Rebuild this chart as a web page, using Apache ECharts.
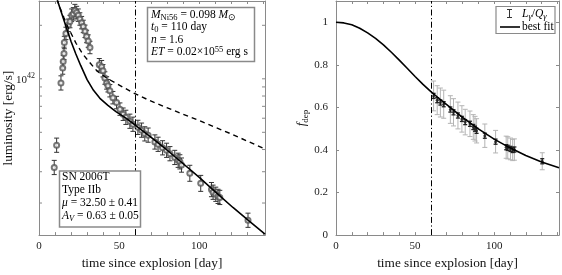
<!DOCTYPE html>
<html><head><meta charset="utf-8">
<script src="https://cdn.jsdelivr.net/npm/echarts@6/dist/echarts.min.js"></script>
<style>html,body{margin:0;padding:0;background:#fff}#c{width:562px;height:275px}</style>
</head><body><div id="c"></div>
<script>
// ---------- DATA ----------
const lumDays = [9.5, 11.0, 13.7, 14.8, 15.1, 15.6, 15.8, 16.8, 18.3, 19.3, 20.4, 21.4, 22.4, 23.5, 24.5, 25.5, 26.6, 27.6, 28.7, 29.7, 30.7, 31.8, 37.6, 39.1, 39.9, 41.1, 42.2, 43.0, 44.2, 46.1, 48.4, 50.5, 52.5, 54.2, 56.7, 58.6, 61.7, 64.0, 66.0, 68.1, 72.3, 74.3, 77.1, 79.6, 81.7, 84.7, 86.8, 87.9, 88.9, 94.1, 100.9, 107.6, 108.6, 110.3, 111.7, 112.8, 130.4];
const lum = [3.17e41, 4.23e41, 9.48e41, 1.15e42, 1.25e42, 1.39e42, 1.60e42, 1.80e42, 2.00e42, 2.10e42, 2.28e42, 2.32e42, 2.42e42, 2.36e42, 2.28e42, 2.17e42, 2.07e42, 1.97e42, 1.85e42, 1.73e42, 1.63e42, 1.50e42, 1.20e42, 1.17e42, 1.11e42, 1.01e42, 9.48e41, 9.14e41, 8.57e41, 7.83e41, 7.35e41, 6.75e41, 6.32e41, 6.07e41, 5.77e41, 5.55e41, 5.33e41, 5.14e41, 4.90e41, 4.82e41, 4.41e41, 4.28e41, 4.09e41, 3.96e41, 3.79e41, 3.61e41, 3.48e41, 3.41e41, 3.27e41, 2.94e41, 2.58e41, 2.38e41, 2.30e41, 2.24e41, 2.18e41, 2.15e41, 1.60e41];
const lumErrDex = [0.04, 0.04, 0.04, 0.035, 0.035, 0.035, 0.035, 0.035, 0.035, 0.035, 0.035, 0.035, 0.035, 0.035, 0.035, 0.035, 0.035, 0.035, 0.035, 0.035, 0.035, 0.035, 0.035, 0.035, 0.035, 0.035, 0.035, 0.035, 0.035, 0.035, 0.035, 0.035, 0.035, 0.04, 0.04, 0.04, 0.04, 0.04, 0.04, 0.04, 0.04, 0.04, 0.04, 0.04, 0.04, 0.04, 0.04, 0.04, 0.04, 0.045, 0.045, 0.04, 0.04, 0.04, 0.04, 0.04, 0.04];

const fitDays = [11.5, 13, 15, 17, 20, 23, 26, 30, 34, 38, 43, 48, 54, 60, 70, 80, 90, 100, 110, 121, 131, 141];
const fitLum = [2.754e42, 2.512e42, 2.213e42, 1.950e42, 1.622e42, 1.380e42, 1.189e42, 9.886e41, 8.610e41, 7.762e41, 7.079e41, 6.531e41, 6.026e41, 5.495e41, 4.677e41, 3.963e41, 3.327e41, 2.786e41, 2.312e41, 1.888e41, 1.585e41, 1.337e41];

const ni56Days = [11.2, 13.1, 15.5, 18.1, 23.1, 27.4, 31.8, 36.1, 42.4, 48.6, 58.6, 69.2, 79.7, 87.8, 100.3, 120.9, 140.8];
const ni56Lum = [2.812e42, 2.512e42, 2.213e42, 1.950e42, 1.585e42, 1.374e42, 1.230e42, 1.109e42, 1.007e42, 9.376e41, 8.356e41, 7.534e41, 6.887e41, 6.427e41, 5.808e41, 4.853e41, 4.036e41];

const fdepDays = [61.7, 64.0, 66.0, 68.1, 72.3, 74.3, 77.1, 79.6, 81.7, 84.7, 86.8, 87.9, 88.9, 94.1, 100.9, 107.6, 108.6, 110.3, 111.7, 112.8, 130.4];
const fdepVal = [0.654, 0.634, 0.623, 0.615, 0.590, 0.577, 0.562, 0.546, 0.531, 0.523, 0.508, 0.500, 0.490, 0.467, 0.439, 0.413, 0.410, 0.405, 0.400, 0.402, 0.347];
const fdepErr = [0.070, 0.068, 0.068, 0.066, 0.065, 0.064, 0.063, 0.062, 0.060, 0.060, 0.058, 0.058, 0.057, 0.055, 0.053, 0.052, 0.052, 0.051, 0.050, 0.050, 0.040];
const fdepErrStat = [0.012, 0.012, 0.012, 0.012, 0.012, 0.012, 0.012, 0.012, 0.012, 0.012, 0.012, 0.012, 0.012, 0.012, 0.012, 0.012, 0.012, 0.012, 0.012, 0.012, 0.012];

const fdepFitDays = [0, 5, 10, 15, 20, 25, 30, 35, 40, 45, 50, 55, 60, 65, 70, 80, 90, 100, 110, 120, 130, 141];
const fdepFitVal = [1.0, 0.997, 0.988, 0.972, 0.950, 0.924, 0.894, 0.859, 0.822, 0.784, 0.745, 0.708, 0.674, 0.643, 0.613, 0.553, 0.499, 0.451, 0.410, 0.374, 0.343, 0.316];

const lumTickVals = [2e41, 3e41, 4e41, 5e41, 6e41, 7e41, 8e41, 9e41, 1e42, 2e42];
const lumLabelVals = [1e42];
const fitStartDay = 60; // vertical dash-dot line

// ---------- CHART ----------
const FONT = 'Liberation Serif';
const FRAME = '#8a8a8a';
const X_MIN = 0, X_MAX = 141;
const L_MIN = 1.32e41, L_MAX = 2.74e42;

function errRender(color, lw, cap) {
  return function (params, api) {
    const x = api.value(0), lo = api.value(2), hi = api.value(3);
    const a = api.coord([x, lo]), b = api.coord([x, hi]);
    const st = { stroke: color, lineWidth: lw };
    return { type: 'group', children: [
      { type: 'line', shape: { x1: a[0], y1: a[1], x2: b[0], y2: b[1] }, style: st },
      { type: 'line', shape: { x1: a[0] - cap, y1: a[1], x2: a[0] + cap, y2: a[1] }, style: st },
      { type: 'line', shape: { x1: b[0] - cap, y1: b[1], x2: b[0] + cap, y2: b[1] }, style: st }
    ] };
  };
}

const lumErrData = lumDays.map((d, i) => [d, lum[i], lum[i] * Math.pow(10, -lumErrDex[i]), lum[i] * Math.pow(10, lumErrDex[i])]);
const fdepErrData = fdepDays.map((d, i) => [d, fdepVal[i], fdepVal[i] - fdepErr[i], fdepVal[i] + fdepErr[i]]);
const fdepStatData = fdepDays.map((d, i) => [d, fdepVal[i], fdepVal[i] - fdepErrStat[i], fdepVal[i] + fdepErrStat[i]]);

const tickStyle = { show: true, inside: true, length: 3, lineStyle: { color: FRAME, width: 1 } };
const lineStyleAx = { show: true, onZero: false, lineStyle: { color: FRAME, width: 1 } };
const labelStyle = { color: '#222', fontFamily: FONT, fontSize: 11 };
const nameStyle = { color: '#111', fontFamily: FONT, fontSize: 13.3 };

function xAx(grid, top) {
  return {
    gridIndex: grid, type: 'value', min: X_MIN, max: X_MAX, interval: 10,
    position: top ? 'top' : 'bottom',
    axisLine: lineStyleAx, axisTick: tickStyle, splitLine: { show: false },
    axisLabel: top ? { show: false } : Object.assign({ margin: 6, formatter: v => (v % 50 === 0 ? String(v) : '') }, labelStyle),
    name: top ? '' : 'time since explosion [day]', nameLocation: 'middle', nameGap: 20, nameTextStyle: nameStyle
  };
}

const dashDot = {
  silent: true, symbol: ['none', 'none'], label: { show: false },
  lineStyle: { color: '#000', width: 1, type: [6, 2.5, 1.2, 2.5] },
  data: [{ xAxis: fitStartDay }]
};

const FS = 11.5;
const rich = {
  n: { fontFamily: FONT, fontSize: FS, lineHeight: 14, verticalAlign: 'middle', fill: '#000' },
  i: { fontFamily: FONT, fontSize: FS, lineHeight: 14, fontStyle: 'italic', verticalAlign: 'middle', fill: '#000' },
  sub: { fontFamily: FONT, fontSize: 8.5, lineHeight: 8, verticalAlign: 'bottom', fill: '#000' },
  isub: { fontFamily: FONT, fontSize: 8.5, lineHeight: 8, fontStyle: 'italic', verticalAlign: 'bottom', fill: '#000' },
  sup: { fontFamily: FONT, fontSize: 8.5, lineHeight: 8, verticalAlign: 'top', fill: '#000' }
};
function txt(x, y, s) {
  return { type: 'text', x: x, y: y, z: 11, style: { text: s, rich: rich, verticalAlign: 'middle', align: 'left', fill: '#000', font: FS + 'px ' + FONT } };
}

const chart = echarts.init(document.getElementById('c'), null, { renderer: 'canvas' });
chart.setOption({
  animation: false,
  backgroundColor: '#fff',
  grid: [
    { left: 39, top: 1, width: 226, height: 239 },
    { left: 336, top: 1, width: 225, height: 239 }
  ],
  xAxis: [xAx(0, false), xAx(0, true), xAx(1, false), xAx(1, true)],
  yAxis: [
    { gridIndex: 0, type: 'log', min: L_MIN, max: L_MAX, position: 'left',
      axisLine: lineStyleAx, axisTick: { show: false }, axisLabel: { show: false }, splitLine: { show: false },
      name: 'luminosity [erg/s]', nameLocation: 'middle', nameGap: 24, nameTextStyle: nameStyle },
    { gridIndex: 0, type: 'log', min: L_MIN, max: L_MAX, position: 'right',
      axisLine: lineStyleAx, axisTick: { show: false }, axisLabel: { show: false }, splitLine: { show: false } },
    { gridIndex: 1, type: 'value', min: 0, max: 1.1, interval: 0.2, position: 'left',
      axisLine: lineStyleAx, axisTick: tickStyle, splitLine: { show: false },
      axisLabel: Object.assign({ margin: 8, formatter: v => (v <= 1.0001 ? String(Math.round(v * 10) / 10) : '') }, labelStyle),
      name: '{i|f}{s|dep}', nameLocation: 'middle', nameGap: 26,
      nameTextStyle: Object.assign({ rich: {
        i: { fontFamily: FONT, fontSize: 13, fontStyle: 'italic', lineHeight: 16, verticalAlign: 'middle' },
        s: { fontFamily: FONT, fontSize: 9, lineHeight: 9, verticalAlign: 'bottom' } } }, nameStyle) },
    { gridIndex: 1, type: 'value', min: 0, max: 1.1, interval: 0.2, position: 'right',
      axisLine: lineStyleAx, axisTick: tickStyle, axisLabel: { show: false }, splitLine: { show: false } }
  ],
  series: [
    // left panel
    { type: 'custom', xAxisIndex: 0, yAxisIndex: 0, silent: true, z: 3,
      data: lumErrData, encode: { x: 0, y: 1 }, renderItem: errRender('#333', 1, 2.5) },
    { type: 'scatter', xAxisIndex: 0, yAxisIndex: 0, silent: true, z: 4,
      data: lumDays.map((d, i) => [d, lum[i]]), symbol: 'emptyCircle', symbolSize: 5,
      itemStyle: { color: '#555', borderColor: '#555', borderWidth: 0.8 } },
    { type: 'line', xAxisIndex: 0, yAxisIndex: 0, silent: true, z: 5, showSymbol: false, smooth: false,
      data: fitDays.map((d, i) => [d, fitLum[i]]), lineStyle: { color: '#000', width: 1.6 }, markLine: dashDot },
    { type: 'line', xAxisIndex: 0, yAxisIndex: 0, silent: true, z: 5, showSymbol: false, smooth: false,
      data: ni56Days.map((d, i) => [d, ni56Lum[i]]), lineStyle: { color: '#000', width: 1.4, type: [5, 4] } },
    { type: 'custom', xAxisIndex: 0, yAxisIndex: 0, silent: true, z: 6,
      data: lumTickVals.map(v => [X_MIN, v]), encode: { x: 0, y: 1 },
      renderItem: (p, api) => {
        const v = api.value(1);
        const a = api.coord([X_MIN, v]), b = api.coord([X_MAX, v]);
        const st = { stroke: FRAME, lineWidth: 1 };
        return { type: 'group', children: [
          { type: 'line', shape: { x1: a[0], y1: a[1], x2: a[0] + 3, y2: a[1] }, style: st },
          { type: 'line', shape: { x1: b[0], y1: b[1], x2: b[0] - 3, y2: b[1] }, style: st }
        ] };
      } },
    { type: 'custom', xAxisIndex: 0, yAxisIndex: 0, silent: true, z: 6,
      data: lumLabelVals.map(v => [X_MIN, v]), encode: { x: 0, y: 1 },
      renderItem: (p, api) => {
        const v = api.value(1);
        const a = api.coord([X_MIN, v]);
        const e = Math.round(Math.log10(v));
        return { type: 'text', x: a[0] - 4, y: a[1], style: {
          text: '{b|10}{s|' + e + '}', align: 'right', verticalAlign: 'middle',
          rich: { b: { fontFamily: FONT, fontSize: 11, lineHeight: 14, verticalAlign: 'bottom', fill: '#222' },
                  s: { fontFamily: FONT, fontSize: 8, lineHeight: 8, verticalAlign: 'top', fill: '#222' } } } };
      } },
    // right panel
    { type: 'custom', xAxisIndex: 2, yAxisIndex: 2, silent: true, z: 3,
      data: fdepErrData, encode: { x: 0, y: 1 }, renderItem: errRender('#b4b4b4', 1, 2.5) },
    { type: 'custom', xAxisIndex: 2, yAxisIndex: 2, silent: true, z: 4,
      data: fdepStatData, encode: { x: 0, y: 1 }, renderItem: errRender('#222', 1.3, 2) },
    { type: 'scatter', xAxisIndex: 2, yAxisIndex: 2, silent: true, z: 4,
      data: fdepDays.map((d, i) => [d, fdepVal[i]]), symbol: 'circle', symbolSize: 3,
      itemStyle: { color: '#222' } },
    { type: 'line', xAxisIndex: 2, yAxisIndex: 2, silent: true, z: 5, showSymbol: false, smooth: false,
      data: fdepFitDays.map((d, i) => [d, fdepFitVal[i]]), lineStyle: { color: '#000', width: 1.6 }, markLine: dashDot }
  ],
  graphic: [
    // parameter box
    { type: 'rect', shape: { x: 147.5, y: 7.5, width: 107, height: 54 }, style: { fill: '#fff', stroke: FRAME, lineWidth: 1.5 }, z: 10 },
    txt(151, 15, '{i|M}{sub|Ni56}{n| = 0.098 }{i|M}{sub|⊙}'),
    txt(151, 27.3, '{i|t}{sub|0}{n| = 110 day}'),
    txt(151, 39.6, '{i|n}{n| = 1.6}'),
    txt(151, 51.9, '{i|ET}{n| = 0.02×10}{sup|55}{n| erg s}'),
    // SN box
    { type: 'rect', shape: { x: 59.5, y: 171, width: 81, height: 56 }, style: { fill: '#fff', stroke: FRAME, lineWidth: 1.5 }, z: 10 },
    txt(62, 177, '{n|SN 2006T}'),
    txt(62, 190, '{n|Type IIb}'),
    txt(62, 203, '{i|μ}{n| = 32.50 ± 0.41}'),
    txt(62, 216, '{i|A}{isub|V}{n| = 0.63 ± 0.05}'),
    // legend
    { type: 'rect', shape: { x: 496, y: 6.5, width: 59, height: 27 }, style: { fill: '#fff', stroke: FRAME, lineWidth: 1.2 }, z: 10 },
    { type: 'line', shape: { x1: 509.5, y1: 9.5, x2: 509.5, y2: 17.5 }, style: { stroke: '#333', lineWidth: 1 }, z: 11 },
    { type: 'line', shape: { x1: 507, y1: 9.5, x2: 512, y2: 9.5 }, style: { stroke: '#333', lineWidth: 1 }, z: 11 },
    { type: 'line', shape: { x1: 507, y1: 17.5, x2: 512, y2: 17.5 }, style: { stroke: '#333', lineWidth: 1 }, z: 11 },
    txt(522, 14, '{i|L}{isub|γ}{n|/}{i|Q}{isub|γ}'),
    { type: 'line', shape: { x1: 500, y1: 27, x2: 520, y2: 27 }, style: { stroke: '#000', lineWidth: 1.6 }, z: 11 },
    txt(522, 27, '{n|best fit}')
  ]
});
</script></body></html>
